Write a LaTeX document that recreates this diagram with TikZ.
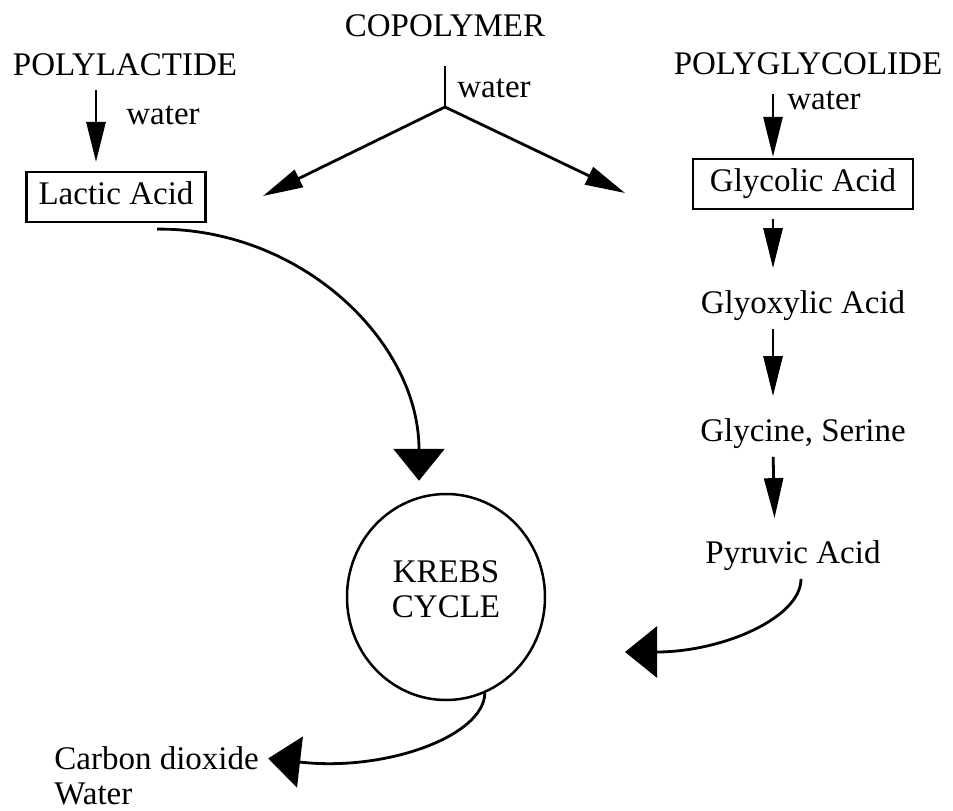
\documentclass[tikz,border=0pt]{standalone}
\usepackage{fontspec}
\setmainfont{Liberation Serif}
\usetikzlibrary{arrows.meta,shapes.geometric,calc}
\begin{document}
\begin{tikzpicture}[x=1pt, y=-1pt, line width=2.8pt,
    every node/.style={font=\fontsize{33}{35}\selectfont, inner sep=0pt},
    txt/.style={text height=22pt, text depth=7pt},
    acidbox/.style={txt, draw, line width=2.2pt, minimum height=50pt},
    thinarrow/.style={-{Triangle[length=40pt, width=19pt]}},
    fatarrow/.style={-{Triangle[length=32pt, width=51pt]}},
    chain/.style={thinarrow, shorten <=7pt, shorten >=22pt}]
\useasboundingbox (0,0) rectangle (953,811);
% исходные полимеры
                \node [txt] (copoly) at ( 445, 29 ) {COPOLYMER};
                \node [txt] (polyla) at ( 125, 68 ) {POLYLACTIDE};
                \node [txt] (polygl) at ( 808, 67 ) {POLYGLYCOLIDE};
% кислоты
                \node [acidbox, minimum width=179pt] (lactic) at ( 116, 197 ) {Lactic Acid};
                \node [acidbox, minimum width=220pt] (glycolic) at ( 803, 184 ) {Glycolic Acid};
                \node [txt] (glyox) at ( 803, 306 ) {Glyoxylic Acid};
                \node [txt] (glycine) at ( 803, 434 ) {Glycine, Serine};
                \node [txt] (pyruvic) at ( 793, 556 ) {Pyruvic Acid};
% цикл
                \node [draw, ellipse, line width=2.5pt, minimum width=198pt, minimum height=206pt] (krebs) at ( 446, 597 ) {};
                \node [align=center] (krebstxt) at ( 446, 589 ) {KREBS\\CYCLE};
                \node [anchor=west, align=left] (co2) at ( 53, 776 ) {Carbon dioxide\\Water};
% вода
                \node [anchor=west] (wla) at ( 125, 115 ) {water};
                \node [anchor=west] (wco) at ( 456, 88 ) {water};
                \node [anchor=west] (wgl) at ( 786, 100 ) {water};
% точки
                \coordinate (junc) at ( 445, 107 );
                \coordinate (ltip) at ( 263, 196 );
                \coordinate (rtip) at ( 625, 193 );
                \coordinate (ptip) at ( 625, 652 );
% стрелки
                \draw [thinarrow, shorten <=6pt, shorten >=9pt] ([xshift=-29pt]polyla.south) -- ([xshift=-20pt]lactic.north);
                \draw [shorten <=21pt] (copoly.south) -- (junc);
                \draw [thinarrow] (junc) -- (ltip);
                \draw [thinarrow] (junc) -- (rtip);
                \draw [thinarrow, shorten <=11pt, shorten >=1pt] ([xshift=-35pt]polygl.south) -- ([xshift=-30pt]glycolic.north);
                \draw [chain, shorten <=9pt] ([xshift=-30pt]glycolic.south) -- ([xshift=-30pt]glyox.north);
                \draw [chain] ([xshift=-30pt]glyox.south) -- ([xshift=-30pt]glycine.north);
                \draw [chain] ([xshift=-30pt]glycine.south) -- ([xshift=-18pt]pyruvic.north);
% дуги
                \draw [fatarrow] ($(lactic.south)+(41,6)$) .. controls ( 302, 228 ) and ( 419, 342 ) .. ($(krebs.north)+(-27,-12)$);
                \draw [fatarrow] ($(pyruvic.south)+(8,7)$) .. controls ( 801, 618 ) and ( 722, 652 ) .. (ptip);
                \draw [fatarrow] (krebs.-68) .. controls ( 484, 736 ) and ( 386, 772 ) .. ($(co2.north east)+(8,13)$);
\end{tikzpicture}
\end{document}
